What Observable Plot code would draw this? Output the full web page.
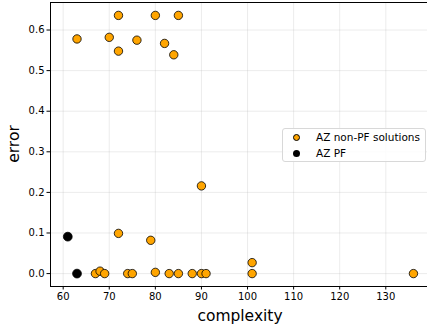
<!DOCTYPE html>
<html>
<head>
<meta charset="utf-8">
<script src="https://cdn.jsdelivr.net/npm/d3@7"></script>
<script src="https://cdn.jsdelivr.net/npm/@observablehq/plot@0.6"></script>
<style>
  html, body { margin: 0; padding: 0; background: #fff; }
  #wrap { position: relative; width: 427px; height: 331px; overflow: hidden; font-family: "DejaVu Sans", sans-serif; }
  #legend { position: absolute; left: 282px; top: 128px; width: 144px; height: 34px; border: 1px solid #d8d8d8; border-radius: 3px; background: rgba(255,255,255,0.85); font-size: 10.5px; color: #000; box-sizing: border-box; }
  .row { position: absolute; left: 0; height: 12px; line-height: 12px; white-space: nowrap; }
  .dot { position: absolute; left: 10px; top: 2.5px; width: 7px; height: 7px; border-radius: 50%; box-sizing: border-box; }
  .lab { position: absolute; left: 33px; top: 0; }
</style>
</head>
<body>
<div id="wrap">
  <div id="chart"></div>
  <div id="legend">
    <div class="row" style="top:2px"><span class="dot" style="background:#ffa500;border:1px solid #000"></span><span class="lab">AZ non-PF solutions</span></div>
    <div class="row" style="top:18px"><span class="dot" style="background:#000"></span><span class="lab">AZ PF</span></div>
  </div>
</div>
<script>
// AZ non-PF solutions
const nonPfComplexity = [63, 70, 72, 72, 76, 80, 82, 84, 85, 72, 79, 90, 67, 68, 69, 74, 75, 80, 83, 85, 88, 90, 91, 101, 101, 136];
const nonPfError     = [0.578, 0.582, 0.636, 0.548, 0.575, 0.636, 0.567, 0.539, 0.636, 0.099, 0.082, 0.216, 0, 0.006, 0, 0, 0, 0.003, 0, 0, 0, 0, 0, 0.027, 0, 0];
// AZ PF
const pfComplexity = [61, 63];
const pfError      = [0.091, 0];

const xTicks = [60, 70, 80, 90, 100, 110, 120, 130];
const yTicks = [0.0, 0.1, 0.2, 0.3, 0.4, 0.5, 0.6];

const nonPf = nonPfComplexity.map((c, i) => ({complexity: c, error: nonPfError[i]}));
const pf = pfComplexity.map((c, i) => ({complexity: c, error: pfError[i]}));

const xDom = [57.25, 139.05];
const yDom = [-0.0318, 0.6678];

const chart = Plot.plot({
  width: 427,
  height: 331,
  marginLeft: 50,
  marginRight: 0,
  marginTop: 2,
  marginBottom: 45,
  style: {fontFamily: "DejaVu Sans, sans-serif", fontSize: "10px", color: "#000", background: "#fff"},
  x: {domain: xDom, ticks: xTicks, tickFormat: d => d, label: null},
  y: {domain: yDom, ticks: yTicks, tickFormat: d => d.toFixed(1), label: null},
  marks: [
    Plot.gridX(xTicks, {stroke: "#b0b0b0", strokeOpacity: 0.3, strokeWidth: 0.8}),
    Plot.gridY(yTicks, {stroke: "#b0b0b0", strokeOpacity: 0.3, strokeWidth: 0.8}),
    Plot.axisX(xTicks, {tickSize: 3.5, tickPadding: 2.5, tickFormat: d => d, label: null, fontSize: 10}),
    Plot.axisY(yTicks, {tickSize: 3.5, tickPadding: 2.5, tickFormat: d => d.toFixed(1), label: null, fontSize: 10}),
    Plot.ruleX([xDom[0]], {stroke: "#000", strokeWidth: 1}),
    Plot.ruleY([yDom[0]], {stroke: "#000", strokeWidth: 1}),
    Plot.ruleY([yDom[1]], {stroke: "#000", strokeWidth: 1}),
    Plot.dot(nonPf, {x: "complexity", y: "error", r: 4.2, fill: "#ffa500", stroke: "#000", strokeWidth: 0.8}),
    Plot.dot(pf, {x: "complexity", y: "error", r: 4.4, fill: "#000", stroke: "#000", strokeWidth: 0.8})
  ]
});
document.getElementById("chart").appendChild(chart);

// axis titles
const svg = d3.select(chart);
svg.append("text").attr("x", 240).attr("y", 321).attr("text-anchor", "middle")
  .attr("font-size", 15.5).attr("font-family", "DejaVu Sans, sans-serif").text("complexity");
svg.append("text").attr("transform", "translate(19,144) rotate(-90)").attr("text-anchor", "middle")
  .attr("font-size", 15.5).attr("font-family", "DejaVu Sans, sans-serif").text("error");
</script>
</body>
</html>
